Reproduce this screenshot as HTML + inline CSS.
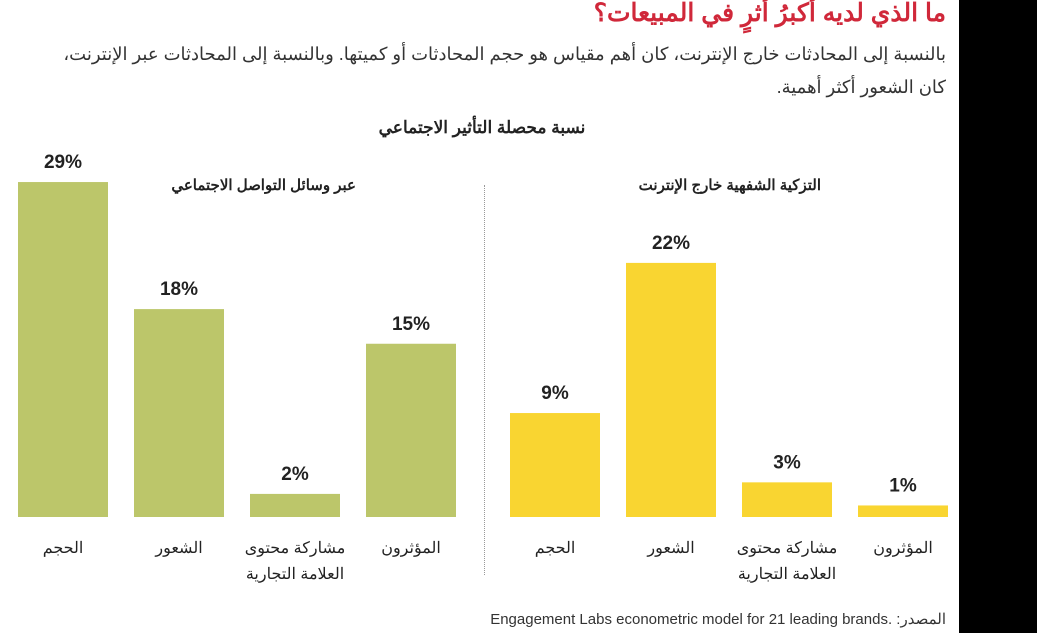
<!DOCTYPE html>
<html><head><meta charset="utf-8"><style>
body{margin:0;width:1042px;height:633px;background:#fff;position:relative;overflow:hidden;font-family:"Liberation Sans","Noto Sans CJK SC",sans-serif;color:#222}
.t{position:absolute;direction:rtl;white-space:nowrap}
</style></head><body>
<div style="position:absolute;left:959px;top:0;width:78px;height:633px;background:#000"></div>
<div class="t" style="right:96px;top:-2px;font-size:25px;font-weight:bold;color:#d0283a">ما الذي لديه أكبرُ أثرٍ في المبيعات؟</div>
<div class="t" style="right:96px;top:38px;font-size:18px;line-height:33px;color:#333">بالنسبة إلى المحادثات خارج الإنترنت، كان أهم مقياس هو حجم المحادثات أو كميتها. وبالنسبة إلى المحادثات عبر الإنترنت،<br>كان الشعور أكثر أهمية.</div>
<div class="t" style="left:0;width:964px;text-align:center;top:118px;font-size:17px;font-weight:bold">نسبة محصلة التأثير الاجتماعي</div>
<div class="t" style="right:686px;top:176px;font-size:15px;font-weight:bold">عبر وسائل التواصل الاجتماعي</div>
<div class="t" style="right:221px;top:176px;font-size:15px;font-weight:bold">التزكية الشفهية خارج الإنترنت</div>
<div style="position:absolute;left:484px;top:185px;height:390px;border-left:1px dotted #999"></div>
<svg id="chart" width="1042" height="633" style="position:absolute;left:0;top:0"></svg>
<div class="t" style="right:96px;top:610px;font-size:15px;color:#333">المصدر: <span dir="ltr">Engagement Labs econometric model for 21 leading brands.</span></div>
<script>
const categories=["الحجم","الشعور","مشاركة محتوى|العلامة التجارية","المؤثرون"];
const socialValues=[29,18,2,15];
const offlineValues=[9,22,3,1];
const groupStarts=[18,510];
const baseY=517,pxPer=11.55,barW=90,step=116;
const y=v=>baseY-v*pxPer;
const svg=document.getElementById('chart');
const NS='http://www.w3.org/2000/svg';
function draw(vals,g0,color,gname){
 vals.forEach((v,i)=>{
  const x=g0+i*step;
  const r=document.createElementNS(NS,'rect');
  
  
  r.setAttribute('x',x);r.setAttribute('y',y(v));r.setAttribute('width',barW);r.setAttribute('height',baseY-y(v));r.setAttribute('fill',color);
  svg.appendChild(r);
  const t=document.createElementNS(NS,'text');
  
  
  t.setAttribute('x',x+barW/2);t.setAttribute('y',y(v)-14);t.setAttribute('text-anchor','middle');
  t.setAttribute('font-size','19');t.setAttribute('font-weight','bold');t.setAttribute('fill','#222');
  t.textContent=v+'%';svg.appendChild(t);
  categories[i].split('|').forEach((line,k)=>{
   const l=document.createElementNS(NS,'text');
   
   
   l.setAttribute('x',x+barW/2);l.setAttribute('y',553+k*26);l.setAttribute('text-anchor','middle');
   l.setAttribute('direction','rtl');l.setAttribute('font-size','16');l.setAttribute('fill','#222');
   l.setAttribute('font-family','"Liberation Sans","Noto Sans CJK SC",sans-serif');
   l.textContent=line;svg.appendChild(l);
  });
 });
}
draw(socialValues,groupStarts[0],'#bcc66a','social');
draw(offlineValues,groupStarts[1],'#f9d531','offline');
</script>
</body></html>
